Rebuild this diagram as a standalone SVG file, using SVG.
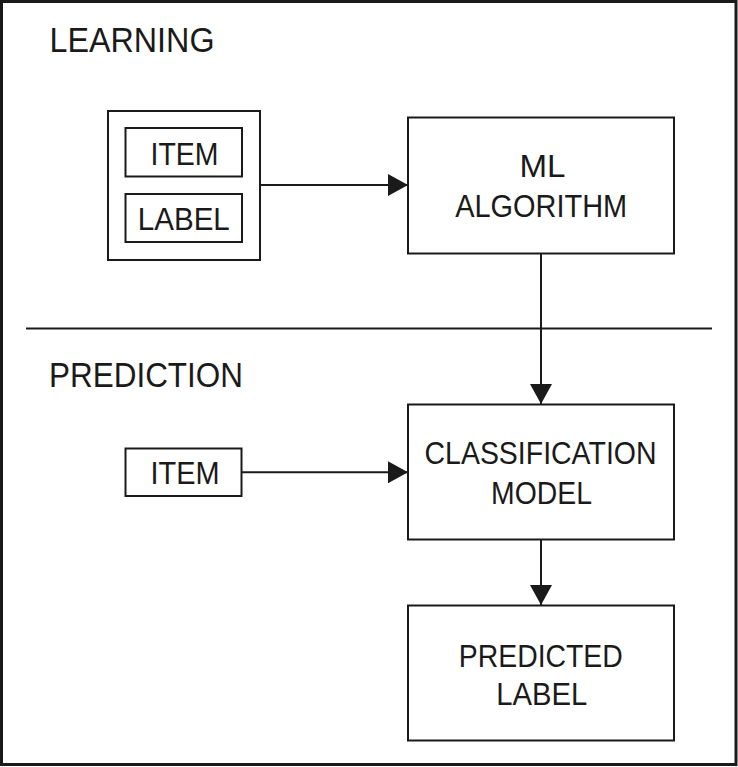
<svg xmlns="http://www.w3.org/2000/svg" width="738" height="767" viewBox="0 0 738 767">
<style>
.box{fill:#fff;stroke:#1a1a1a;stroke-width:2}
.t{font-family:"Liberation Sans",Arial,sans-serif;font-size:30.5px;fill:#1a1a1a;text-anchor:middle}
.h{font-family:"Liberation Sans",Arial,sans-serif;font-size:35px;fill:#1a1a1a}
.c{stroke:#1a1a1a;stroke-width:2;fill:none}
</style>
<defs>
<marker id="arr" markerUnits="userSpaceOnUse" markerWidth="20" markerHeight="22" refX="20" refY="11" orient="auto">
<path d="M0,0 L20,11 L0,22 Z" fill="#1a1a1a"/>
</marker>
</defs>
<rect x="0" y="0" width="738" height="767" fill="#fff"/>
<rect x="1.5" y="1.5" width="734.5" height="763" fill="none" stroke="#1a1a1a" stroke-width="3"/>
<line x1="26" y1="328.5" x2="712" y2="328.5" stroke="#1a1a1a" stroke-width="2"/>
<text class="h" x="49.5" y="52.3" textLength="165" lengthAdjust="spacingAndGlyphs">LEARNING</text>
<text class="h" x="49" y="387.3" textLength="194" lengthAdjust="spacingAndGlyphs">PREDICTION</text>

<g id="training-data">
<rect class="box" x="108" y="111" width="152" height="149"/>
</g>
<g id="item-train">
<rect class="box" x="125.5" y="128" width="116.5" height="48.5"/>
<text class="t" x="184.5" y="165" textLength="68" lengthAdjust="spacingAndGlyphs">ITEM</text>
</g>
<g id="label-train">
<rect class="box" x="125.5" y="194" width="116.5" height="48"/>
<text class="t" x="183.8" y="230" textLength="92" lengthAdjust="spacingAndGlyphs">LABEL</text>
</g>
<g id="ml-algorithm">
<rect class="box" x="408" y="117.5" width="266" height="136"/>
<text class="t" x="542.5" y="177.3" textLength="46" lengthAdjust="spacingAndGlyphs">ML</text>
<text class="t" x="541.2" y="216.7" textLength="172" lengthAdjust="spacingAndGlyphs">ALGORITHM</text>
</g>
<g id="item-predict">
<rect class="box" x="125.5" y="448.5" width="116" height="47.5"/>
<text class="t" x="185" y="484" textLength="69" lengthAdjust="spacingAndGlyphs">ITEM</text>
</g>
<g id="classification-model">
<rect class="box" x="408" y="404.5" width="266" height="135"/>
<text class="t" x="540.5" y="464.3" textLength="232" lengthAdjust="spacingAndGlyphs">CLASSIFICATION</text>
<text class="t" x="541.5" y="504" textLength="101" lengthAdjust="spacingAndGlyphs">MODEL</text>
</g>
<g id="predicted-label">
<rect class="box" x="408" y="605.5" width="266" height="135"/>
<text class="t" x="540.8" y="666.5" textLength="164" lengthAdjust="spacingAndGlyphs">PREDICTED</text>
<text class="t" x="541.7" y="705" textLength="91" lengthAdjust="spacingAndGlyphs">LABEL</text>
</g>

<g id="connectors">
<line class="c" x1="260" y1="185" x2="408" y2="185" marker-end="url(#arr)"/>
<line class="c" x1="541" y1="253.5" x2="541" y2="404" marker-end="url(#arr)"/>
<line class="c" x1="241.5" y1="472.3" x2="408" y2="472.3" marker-end="url(#arr)"/>
<line class="c" x1="541" y1="539.5" x2="541" y2="605" marker-end="url(#arr)"/>
</g>
</svg>
